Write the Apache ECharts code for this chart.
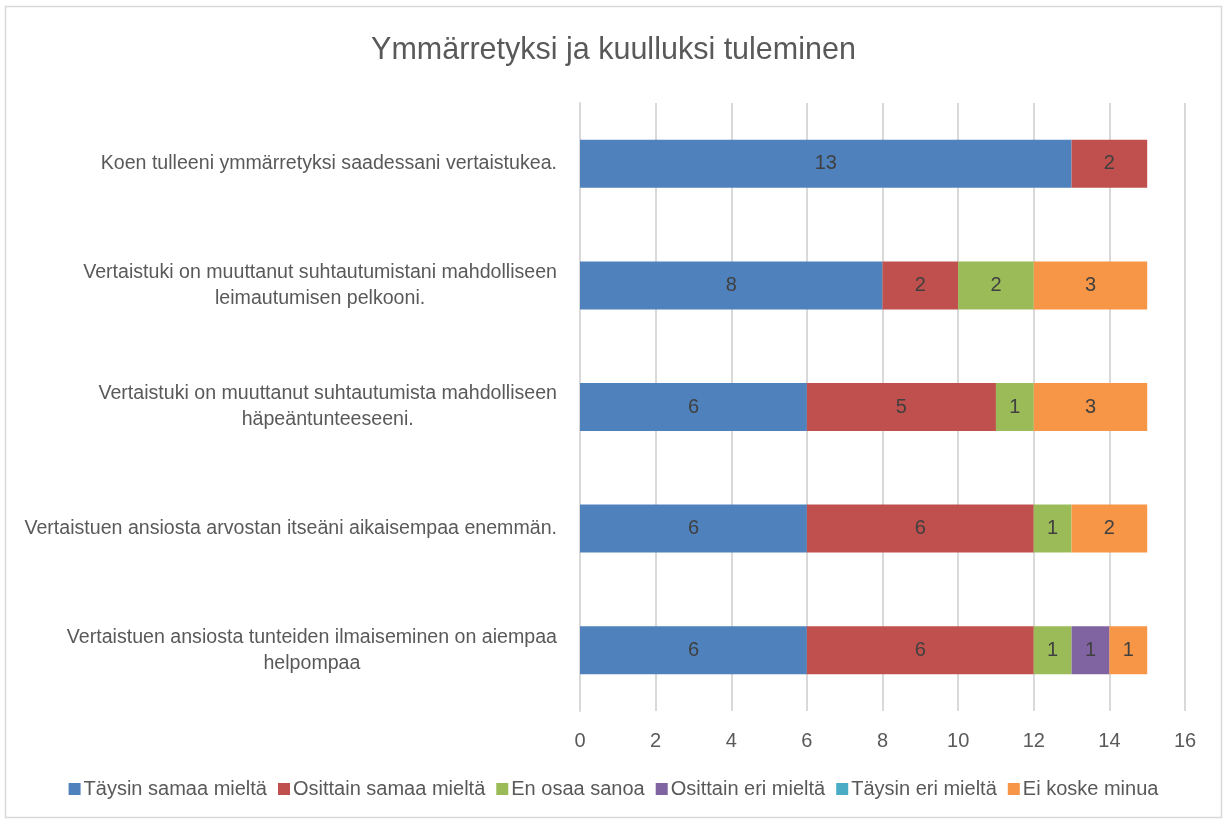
<!DOCTYPE html>
<html><head><meta charset="utf-8">
<script src="https://cdn.jsdelivr.net/npm/echarts@6/dist/echarts.min.js"></script>
<style>html,body{margin:0;padding:0;background:#fff}#c{width:1227px;height:823px}</style>
</head><body><div id="c"></div>
<script>
const categories = [
  "Koen tulleeni ymmärretyksi saadessani vertaistukea.",
  "Vertaistuki on muuttanut suhtautumistani mahdolliseen\nleimautumisen pelkooni.",
  "Vertaistuki on muuttanut suhtautumista mahdolliseen\nhäpeäntunteeseeni.",
  "Vertaistuen ansiosta arvostan itseäni aikaisempaa enemmän.",
  "Vertaistuen ansiosta tunteiden ilmaiseminen on aiempaa\nhelpompaa"
];
const seriesNames = ["Täysin samaa mieltä","Osittain samaa mieltä","En osaa sanoa","Osittain eri mieltä","Täysin eri mieltä","Ei koske minua"];
const taysinSamaa = [13, 8, 6, 6, 6];
const osittainSamaa = [2, 2, 5, 6, 6];
const enOsaa = [0, 2, 1, 1, 1];
const osittainEri = [0, 0, 0, 0, 1];
const taysinEri = [0, 0, 0, 0, 0];
const eiKoske = [0, 3, 3, 2, 1];
const xTicks = [0, 2, 4, 6, 8, 10, 12, 14, 16];
const colors = ["#4F81BD","#C0504D","#9BBB59","#8064A2","#4BACC6","#F79646"];
const values = [taysinSamaa, osittainSamaa, enOsaa, osittainEri, taysinEri, eiKoske];
const FONT = '"Liberation Sans Narrow", "Arial Narrow", "Liberation Sans", sans-serif';

const chart = echarts.init(document.getElementById('c'));
chart.setOption({
  animation: false,
  color: colors,
  textStyle: {fontFamily: FONT},
  title: {
    text: 'Ymmärretyksi ja kuulluksi tuleminen',
    left: 'center', top: 30,
    textStyle: {fontFamily: FONT, fontSize: 30.5, fontWeight: 'normal', color: '#595959'}
  },
  graphic: [{type: 'rect', shape: {x: 5.5, y: 6.5, width: 1216, height: 811}, style: {fill: 'none', stroke: '#d9d9d9', lineWidth: 1.5}, silent: true, z: -1}],
  legend: {
    bottom: 19, left: 'center', itemWidth: 12, itemHeight: 12, itemGap: 11, icon: 'rect',
    textStyle: {fontFamily: FONT, fontSize: 20, color: '#595959', padding: [0,0,0,-2]},
    data: seriesNames
  },
  grid: {left: 580, right: 42, top: 103, bottom: 112, containLabel: false},
  xAxis: {
    type: 'value', min: xTicks[0], max: xTicks[xTicks.length-1], interval: 2,
    axisLine: {show: false}, axisTick: {show: false},
    splitLine: {lineStyle: {color: '#d9d9d9', width: 2}},
    axisLabel: {fontFamily: FONT, fontSize: 20, color: '#595959', margin: 20}
  },
  yAxis: {
    type: 'category', inverse: true, data: categories,
    axisLine: {show: true, lineStyle: {color: '#d9d9d9', width: 2}}, axisTick: {show: false},
    axisLabel: {
      fontFamily: FONT, fontSize: 19.6, color: '#595959', margin: 23, lineHeight: 26,
      formatter: function (v) { return v.split('\n').map(s => '{c|' + s + '}').join('\n'); },
      rich: {c: {align: 'center', fontFamily: FONT, fontSize: 19.6, color: '#595959', lineHeight: 26}}
    }
  },
  series: seriesNames.map((n, i) => ({
    name: n, type: 'bar', stack: 'total', barWidth: 48,
    data: values[i],
    itemStyle: {color: colors[i]},
    label: {
      show: true, position: 'inside', fontFamily: FONT, fontSize: 20, color: '#404040',
      formatter: p => p.value ? String(p.value) : ''
    }
  }))
});
</script></body></html>
